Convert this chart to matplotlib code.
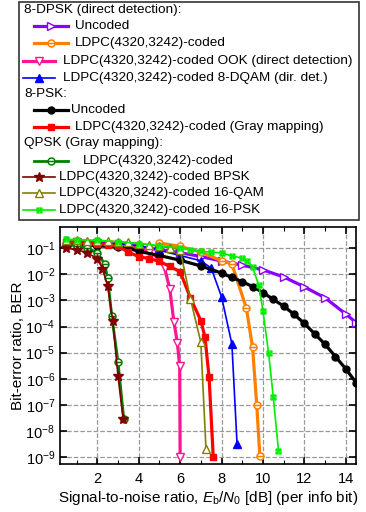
import numpy as np
import matplotlib
matplotlib.use("Agg")
import matplotlib.pyplot as plt
from matplotlib.path import Path
from matplotlib.lines import Line2D
from matplotlib.patches import Rectangle

plt.rcParams['font.family'] = ['Liberation Sans', 'DejaVu Sans']
plt.rcParams['mathtext.fontset'] = 'custom'
plt.rcParams['mathtext.rm'] = 'Liberation Sans'
plt.rcParams['mathtext.it'] = 'Liberation Sans:italic'

# ---- data (Eb/N0 in dB, BER as log10) ----
dpsk_unc_x = [1, 2, 3, 4, 5, 6, 7, 8, 9, 10, 11, 12, 13, 14, 14.5]
dpsk_unc_y = [-0.75, -0.8, -0.87, -0.95, -1.05, -1.17, -1.32, -1.49, -1.65, -1.83, -2.1, -2.48, -2.9, -3.52, -3.85]

dpsk_ldpc_x = [5, 6, 7, 8, 8.5, 9.2, 9.5, 9.7, 9.85]
dpsk_ldpc_y = [-0.8, -0.93, -1.15, -1.48, -1.6, -3.3, -4.8, -7.0, -8.95]

ook_x = [1, 2, 3, 4, 4.5, 5, 5.25, 5.5, 5.7, 5.87, 5.98, 6.0]
ook_y = [-0.75, -0.8, -0.88, -1.0, -1.15, -1.38, -1.76, -2.55, -3.83, -4.63, -5.53, -9.0]

dqam_x = [1, 2, 3, 4, 5, 6, 7, 7.5, 8, 8.5, 8.75]
dqam_y = [-0.75, -0.78, -0.82, -0.9, -1.08, -1.28, -1.48, -1.76, -2.86, -4.67, -8.5]

psk8_unc_x = [0.5, 1, 2, 3, 3.5, 4, 5, 6, 7, 8, 8.5, 9, 9.5, 10, 10.5, 11, 11.5, 12, 12.5, 13, 13.5, 14, 14.5]
psk8_unc_y = [-0.82, -0.85, -0.9, -0.97, -1.0, -1.12, -1.28, -1.46, -1.68, -1.95, -2.12, -2.28, -2.47, -2.7, -2.96, -3.22, -3.53, -3.88, -4.28, -4.68, -5.15, -5.62, -6.15]

psk8_ldpc_x = [0.5, 1, 1.5, 2, 2.5, 3, 3.5, 4, 4.5, 5, 5.5, 6, 6.5, 7, 7.2, 7.4, 7.6]
psk8_ldpc_y = [-0.78, -0.78, -0.8, -0.82, -0.86, -0.92, -1.15, -1.32, -1.4, -1.5, -1.7, -1.9, -2.91, -3.77, -4.4, -5.95, -9.0]

qpsk_x = [0.5, 1, 1.5, 2, 2.35, 2.5, 2.7, 3.0, 3.28]
qpsk_y = [-0.87, -0.9, -0.98, -1.17, -1.6, -2.14, -3.6, -5.35, -7.55]

bpsk_x = [0.5, 1, 1.5, 2, 2.25, 2.5, 2.75, 3, 3.25]
bpsk_y = [-1.0, -1.06, -1.17, -1.4, -1.78, -2.45, -3.8, -5.9, -7.55]

qam16_x = [0.5, 1, 1.5, 2, 2.5, 3, 3.5, 4, 4.5, 5, 5.5, 6, 6.5, 7, 7.25]
qam16_y = [-0.7, -0.7, -0.71, -0.72, -0.73, -0.75, -0.78, -0.82, -0.87, -0.93, -0.98, -1.05, -2.95, -4.6, -8.7]

psk16_x = [0.5, 1, 2, 3, 4, 5, 6, 6.5, 7, 7.5, 8, 8.5, 9, 9.25, 9.5, 9.8, 10, 10.27, 10.5, 10.75]
psk16_y = [-0.66, -0.67, -0.7, -0.75, -0.82, -0.9, -1.0, -1.06, -1.12, -1.15, -1.18, -1.3, -1.38, -1.5, -1.73, -2.42, -3.4, -5.0, -6.7, -8.75]

# circle with a horizontal bar (Origin style marker)
circ_bar = Path.make_compound_path(Path.unit_circle(),
                                   Path([[-1, 0], [1, 0]], [Path.MOVETO, Path.LINETO]))
sq = [[-1, -1], [1, -1], [1, 1], [-1, 1], [-1, -1]]
box_x = Path.make_compound_path(
    Path(sq, [Path.MOVETO] + [Path.LINETO] * 3 + [Path.CLOSEPOLY]),
    Path([[-1, -1], [1, 1]], [Path.MOVETO, Path.LINETO]),
    Path([[-1, 1], [1, -1]], [Path.MOVETO, Path.LINETO]))

series = [
    ('Uncoded', dpsk_unc_x, dpsk_unc_y, dict(color='#8A00FF', lw=2.3, marker='>', ms=5.5, mfc='white', mew=1.0)),
    ('LDPC(4320,3242)-coded', dpsk_ldpc_x, dpsk_ldpc_y, dict(color='#FF8000', lw=2.3, marker=circ_bar, ms=5, mfc='white', mew=1.1)),
    ('LDPC(4320,3242)-coded OOK (direct detection)', ook_x, ook_y, dict(color='#FF1493', lw=2.3, marker='v', ms=5.5, mfc='white', mew=1.0)),
    ('LDPC(4320,3242)-coded 8-DQAM (dir. det.)', dqam_x, dqam_y, dict(color='#0000FF', lw=1.2, marker='^', ms=5.5)),
    ('Uncoded', psk8_unc_x, psk8_unc_y, dict(color='black', lw=2.3, marker='o', ms=5)),
    ('LDPC(4320,3242)-coded (Gray mapping)', psk8_ldpc_x, psk8_ldpc_y, dict(color='#FF0000', lw=2.3, marker='s', ms=5)),
    ('LDPC(4320,3242)-coded', qpsk_x, qpsk_y, dict(color='#008000', lw=2.0, marker=circ_bar, ms=5, mfc='white', mew=1.1)),
    ('LDPC(4320,3242)-coded BPSK', bpsk_x, bpsk_y, dict(color='#800000', lw=1.2, marker='*', ms=7)),
    ('LDPC(4320,3242)-coded 16-QAM', qam16_x, qam16_y, dict(color='#808000', lw=1.2, marker='^', ms=5.5, mfc='white', mew=1.0)),
    ('LDPC(4320,3242)-coded 16-PSK', psk16_x, psk16_y, dict(color='#00EE00', lw=1.2, marker=box_x, ms=3.5, mfc='none', mew=0.9)),
]

fig = plt.figure(figsize=(3.66, 5.12), dpi=100)
ax = fig.add_axes([0.164, 0.094, 0.809, 0.463])

for label, x, y, st in series:
    ax.plot(x, 10 ** np.array(y), **st)

ax.set_yscale('log')
ax.set_xlim(0.2, 14.5)
ax.set_ylim(5.5e-10, 0.66)
ax.set_xticks([2, 4, 6, 8, 10, 12, 14])
ax.set_xticks(np.arange(1, 15, 2), minor=True)
ax.set_yticks([10.0 ** k for k in range(-9, 0)])
ax.grid(True, which='major', ls='--', color='#999999', lw=0.9)
ax.tick_params(which='both', direction='in', top=True, right=True, labelsize=10.5)
ax.tick_params(which='major', length=5, width=1.2)
ax.tick_params(axis='x', which='major', pad=6)
ax.tick_params(which='minor', length=3, width=0.8)
for s in ax.spines.values():
    s.set_linewidth(1.2)

ax.set_xlabel(r'Signal-to-noise ratio, $E_\mathrm{b}/N_\mathrm{0}$ [dB] (per info bit)', fontsize=11, labelpad=2)
ax.set_ylabel('Bit-error ratio, BER', fontsize=11, labelpad=0)

# ---- legend box drawn above the axes (figure pixel coordinates) ----
W, H = 366.0, 512.0
fig.patches.append(Rectangle((19 / W, 1 - 220 / H), 340 / W, 218 / H, transform=fig.transFigure,
                             fill=False, ec='#333333', lw=1.2))

rows = [
    ('8-DPSK (direct detection):', None, None),
    (0, (34, 68), 75),
    (1, (34, 68), 75),
    (2, (23, 55), 63),
    (3, (23, 55), 63),
    ('8-PSK:', None, None),
    (4, (34, 68), 71),
    (5, (34, 68), 75),
    ('QPSK (Gray mapping):', None, None),
    (6, (34, 68), 83),
    (7, (23, 55), 59),
    (8, (23, 55), 59),
    (9, (23, 55), 59),
]
row_y = [10, 26, 43, 61, 78, 94, 110, 127, 143, 161, 177, 193, 210]
fs_leg = 9.7
for (item, hx, tx), py in zip(rows, row_y):
    yf = 1 - py / H
    if hx is None:
        fig.text(24 / W, yf, item, fontsize=fs_leg, va='center', ha='left')
        continue
    label, _, _, st = series[item]
    st = dict(st)
    lw = st.pop('lw')
    fig.lines.append(Line2D([hx[0] / W, hx[1] / W], [yf, yf], transform=fig.transFigure, lw=lw,
                            color=st['color']))
    mk = {k: v for k, v in st.items() if k != 'color'}
    fig.lines.append(Line2D([(hx[0] + hx[1]) / 2 / W], [yf], transform=fig.transFigure, ls='none',
                            color=st['color'], **mk))
    fig.text(tx / W, yf, label, fontsize=fs_leg, va='center', ha='left')

fig.savefig('out.png', dpi=100)
